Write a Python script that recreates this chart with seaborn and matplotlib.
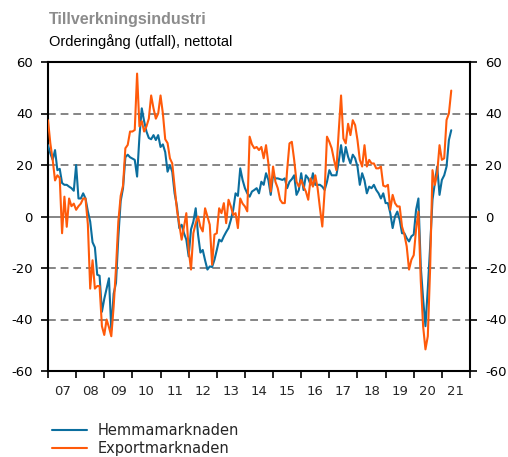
import numpy as np
import pandas as pd
import matplotlib
matplotlib.use("Agg")
import matplotlib.pyplot as plt
from matplotlib.lines import Line2D
import seaborn as sns

# Monthly net balances, Jan 2007 onwards
hemma = [
    27.7, 24.5, 22, 25.8, 18, 18.5, 13, 12.3, 12.3, 11.6, 11, 10,            # 2007
    20, 7, 7, 9, 7, 2, -2, -10, -12, -22.6, -23, -37,                         # 2008
    -32, -28, -24, -44, -30, -25.8, -8, 6, 11, 23, 24, 23,                    # 2009
    22.5, 22, 15.5, 31, 42, 37, 33, 30.5, 30, 31.6, 29.7, 31.6,               # 2010
    27, 28, 25, 17.4, 20, 17.4, 9, 4, -4.5, -3.2, -6.5, -9,                   # 2011
    -15.5, -5, -2, 3.2, -7, -14, -13, -17, -20.6, -19.4, -19.6, -16.8,        # 2012
    -13, -9, -9.7, -7.7, -6, -4.5, -1.3, 2.6, 9, 8, 18.7, 14.2,               # 2013
    11, 9, 7.7, 9.7, 10.3, 11, 9, 13.5, 12.3, 16.8, 14.2, 8.4,                # 2014
    16, 14.8, 14.8, 14.5, 14.2, 14.8, 11, 13.5, 14.5, 16, 8.4, 10.3,          # 2015
    16.8, 10.3, 16, 14.8, 12.3, 16.8, 12.3, 12.3, 12.3, 11.6, 10.3, 13.5,     # 2016
    18, 16, 16, 16, 21.3, 27.7, 21.3, 27, 23.2, 20.6, 24, 22.6,               # 2017
    19.4, 12.3, 16.8, 14, 9, 11.6, 11, 12.3, 10.3, 9, 7, 9,                   # 2018
    5.2, 5.2, 1.3, -4.5, 0, 1.9, -1.3, -6.5, -6.5, -8.4, -9.7, -7.7,          # 2019
    -7, 2.6, 7, -19.4, -32, -42.6, -28, -11.6, 6.5, 12.9, 19.4, 8.4,          # 2020
    14.2, 16, 19.4, 29.7, 33.5,                                               # 2021
]

export = [
    37.4, 28.4, 22, 14, 16, 15, -6.5, 7.7, -4, 7, 4, 5,                       # 2007
    2.6, 4, 5, 7, 7, -3, -28, -17, -28, -27, -27, -42.6,                      # 2008
    -46, -40, -43, -46.5, -35, -20, -2, 8, 12, 26.5, 27.8, 33,                # 2009
    33, 33.6, 55.5, 35, 37, 33, 35, 38, 47, 42, 38, 40,                       # 2010
    47, 40, 30, 28.5, 22.6, 20.6, 11.5, 2.6, -3, -9, -4, 1.3,                 # 2011
    -13, -20.6, -6.5, -2.6, 0, -4, -5.8, 3.2, 0, -3.2, -18.7, -7,             # 2012
    -6.5, 3.2, 1.3, 5.2, -2.6, 6.5, 3.9, 0.6, 1.3, -4.5, 7, 5,                # 2013
    3.9, 2, 31, 28, 26.5, 27, 25.8, 27, 22.6, 27.7, 20.6, 9.7,                # 2014
    19.4, 13.5, 11, 6.5, 5.2, 5.2, 18, 28.4, 29, 22, 13.5, 11.6,              # 2015
    14.2, 11.6, 9.7, 6.5, 14.8, 11.6, 16, 11, 3.2, -3.9, 10, 31,              # 2016
    29, 26.5, 22, 18, 33, 47, 30.3, 28.4, 36, 31.6, 37.4, 35.5,               # 2017
    29.7, 22, 19.4, 27.7, 19.4, 22, 20.6, 20.6, 18.7, 18.7, 19.4, 12,         # 2018
    11.6, 12.3, 2.6, 8.4, 5.2, 3.9, 3.9, -3.9, -7, -11.6, -20.6, -16.8,       # 2019
    -15, -5, 1.9, -25, -42.6, -51.6, -46.5, -20, 18, 12.3, 16.8, 27.7,        # 2020
    22, 22.6, 37.5, 40, 48.9,                                                 # 2021
]

start_year = 2007
year_labels = ["07", "08", "09", "10", "11", "12", "13", "14",
               "15", "16", "17", "18", "19", "20", "21"]
y_ticks = [-60, -40, -20, 0, 20, 40, 60]
series_names = ["Hemmamarknaden", "Exportmarknaden"]
colors = ["#0b6e9e", "#ff5a0a"]

n = len(hemma)
years = start_year + np.arange(n) / 12
df = pd.DataFrame({
    "year": np.concatenate([years, years]),
    "value": hemma + export,
    "serie": [series_names[0]] * n + [series_names[1]] * n,
})

sns.set_style("white")
plt.rcParams['font.family'] = ['DejaVu Sans']

fig = plt.figure(figsize=(5.08, 4.57), dpi=100)
ax = fig.add_axes([48 / 508, 1 - 371 / 457, (470 - 48) / 508, (371 - 62) / 457])

# reference lines
grid_col = '#858585'
for v in [-40, -20, 20, 40]:
    ax.axhline(v, color=grid_col, lw=1.4, ls=(0, (4, 2.5)), zorder=1)
ax.axhline(0, color=grid_col, lw=1.4, zorder=1)

sns.lineplot(data=df, x="year", y="value", hue="serie", hue_order=series_names,
             palette=dict(zip(series_names, colors)), linewidth=1.5,
             estimator=None, sort=False, legend=False, ax=ax, zorder=3)

ax.set_xlim(start_year, start_year + len(year_labels))
ax.set_ylim(-60, 60)
ax.set_xlabel("")
ax.set_ylabel("")

ax.set_yticks(y_ticks)
ax.set_yticklabels([str(t) for t in y_ticks])
ax.set_xticks(np.arange(start_year, start_year + len(year_labels) + 1))
ax.set_xticklabels([])
ax.set_xticks(np.arange(len(year_labels)) + start_year + 0.5, minor=True)
ax.set_xticklabels(year_labels, minor=True)

ax.tick_params(axis='x', which='major', direction='out', length=5, width=1.2,
               bottom=True, top=False, colors='black')
ax.tick_params(axis='x', which='minor', length=0, pad=10, labelsize=9.5)
ax.tick_params(axis='y', direction='out', length=5, width=1.2, left=True,
               right=True, labelleft=True, labelright=True, pad=6,
               labelsize=9.5, colors='black')

for s in ax.spines.values():
    s.set_visible(True)
    s.set_color('black')
    s.set_linewidth(1.5)

fig.text(49 / 508, 1 - 24 / 457, "Tillverkningsindustri", fontsize=11.5,
         fontweight='bold', color='#8c8c8c', family='Liberation Sans',
         va='baseline')
fig.text(49 / 508, 1 - 46 / 457, "Orderingång (utfall), nettotal", fontsize=10.5,
         color='black', family='Liberation Sans', va='baseline')

handles = [Line2D([], [], color=c, lw=1.5) for c in colors]
fig.legend(handles, series_names, loc='upper left',
           bbox_to_anchor=(52 / 508, 1 - 423 / 457), frameon=False,
           fontsize=10.5, handlelength=2.4, handletextpad=0.7,
           labelspacing=0.22, borderpad=0, borderaxespad=0)

fig.savefig("out.png", dpi=100)
